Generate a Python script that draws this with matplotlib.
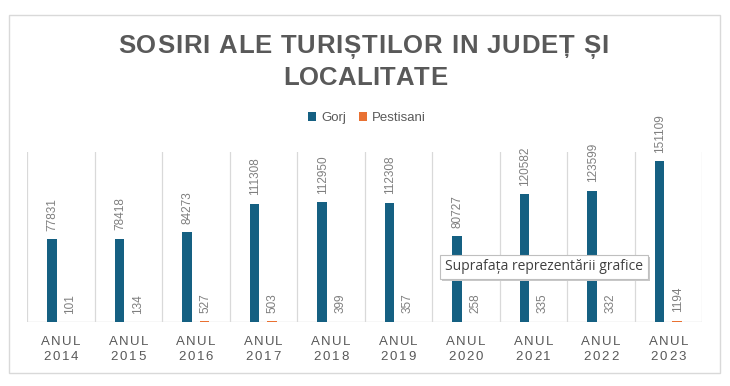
import matplotlib
matplotlib.use("Agg")
import matplotlib.pyplot as plt
from matplotlib.patches import Rectangle
import numpy as np

years = ["2014", "2015", "2016", "2017", "2018", "2019", "2020", "2021", "2022", "2023"]
tick_top = "ANUL"
gorj = [77831, 78418, 84273, 111308, 112950, 112308, 80727, 120582, 123599, 151109]
pestisani = [101, 134, 527, 503, 399, 357, 258, 335, 332, 1194]
series_names = ["Gorj", "Pestisani"]
title_lines = ["SOSIRI ALE TURIȘTILOR IN JUDEȚ ȘI", "LOCALITATE"]
tooltip = "Suprafața reprezentării grafice"

C_GORJ = "#156082"
C_PEST = "#E97132"
C_TEXT = "#595959"
C_GRID = "#D9D9D9"

W, H = 730, 386
DPI = 100
fig = plt.figure(figsize=(W / DPI, H / DPI), dpi=DPI)
fig.patch.set_facecolor("white")
renderer = fig.canvas.get_renderer()


def tracked_text(s, cx, base_y, size, track=None, target=None, family="Liberation Sans",
                 weight="normal", color=C_TEXT, zorder=5):
    """Place characters one by one with extra letter spacing."""
    arts, widths = [], []
    for c in s:
        t = fig.text(0, 0, c, ha="left", va="baseline", fontsize=size, family=family,
                     fontweight=weight, color=color, zorder=zorder)
        if c == " ":
            w = size * DPI / 72 * 0.28
        else:
            w = t.get_window_extent(renderer).width
        arts.append(t)
        widths.append(w)
    if target is not None:
        track = (target - sum(widths)) / max(len(s) - 1, 1)
    total = sum(widths) + track * (len(s) - 1)
    x = cx - total / 2
    for t, w in zip(arts, widths):
        t.set_position((x / W, 1 - base_y / H))
        x += w + track


# outer chart border
fig.patches.append(Rectangle((9 / W, 1 - 373 / H), (720 - 9) / W, (373 - 15) / H,
                             transform=fig.transFigure, fill=False,
                             edgecolor=C_GRID, linewidth=1.0))

ax = fig.add_axes([27 / W, 1 - 322 / H, (702 - 27) / W, (322 - 152) / H])
n = len(years)
x = np.arange(n)
bw = 0.135
off = 0.13
b1 = ax.bar(x - off, gorj, bw, color=C_GORJ, label=series_names[0], zorder=3)
b2 = ax.bar(x + off, pestisani, bw, color=C_PEST, label=series_names[1], zorder=3)

ax.set_xlim(-0.5, n - 0.5)
ax.set_ylim(0, 160000)
for s in ax.spines.values():
    s.set_visible(False)
ax.axhline(0, color=C_GRID, linewidth=1.0, zorder=2)
for b in np.arange(-0.5, n, 1.0):
    ax.axvline(b, color=C_GRID, linewidth=0.9, zorder=1)
ax.set_yticks([])
ax.set_xticks(x)
ax.set_xticklabels([])
ax.tick_params(axis="x", length=0)

# category labels with letter spacing
for xi, yr in zip(x, years):
    px = ax.transData.transform((xi, 0))[0]
    tracked_text(tick_top, px, 345, 9.5, target=39)
    tracked_text(yr, px, 360, 9.5, target=35)

for bars, vals in ((b1, gorj), (b2, pestisani)):
    for r, v in zip(bars, vals):
        ax.annotate(str(v), (r.get_x() + r.get_width() / 2, r.get_height()),
                    xytext=(0.5, 6), textcoords="offset points", rotation=90,
                    ha="center", va="bottom", fontsize=8.5, color="#7F7F7F",
                    family="Liberation Sans", zorder=4)

# title with letter spacing
tracked_text(title_lines[0], 363, 53, 18.5, target=490, weight="bold")
tracked_text(title_lines[1], 365, 85, 18.5, target=164, weight="bold")

leg = fig.legend(handles=[b1, b2], labels=series_names, loc="center",
                 bbox_to_anchor=(367 / W, 1 - 118 / H), ncol=2, frameon=False,
                 handlelength=0.6, handleheight=0.6,
                 handletextpad=0.4, columnspacing=1.0,
                 prop={"family": "Liberation Sans", "size": 9.5})
for t in leg.get_texts():
    t.set_color(C_TEXT)

# tooltip box (screenshot overlay)
tx0, ty0, tx1, ty1 = 440, 255, 648, 279
fig.patches.append(Rectangle(((tx0 + 2) / W, 1 - (ty1 + 2) / H), (tx1 - tx0) / W, (ty1 - ty0) / H,
                             transform=fig.transFigure, facecolor="#C8C8C8",
                             edgecolor="none", zorder=9))
fig.patches.append(Rectangle((tx0 / W, 1 - ty1 / H), (tx1 - tx0) / W, (ty1 - ty0) / H,
                             transform=fig.transFigure, facecolor="white",
                             edgecolor="#BFBFBF", linewidth=0.8, zorder=10))
fig.text((tx0 + tx1) / 2 / W, 1 - (ty0 + ty1) / 2 / H, tooltip, ha="center", va="center",
         fontsize=10, color="#404040", family="Open Sans", zorder=11)

fig.savefig("out.png", dpi=DPI, facecolor="white")
